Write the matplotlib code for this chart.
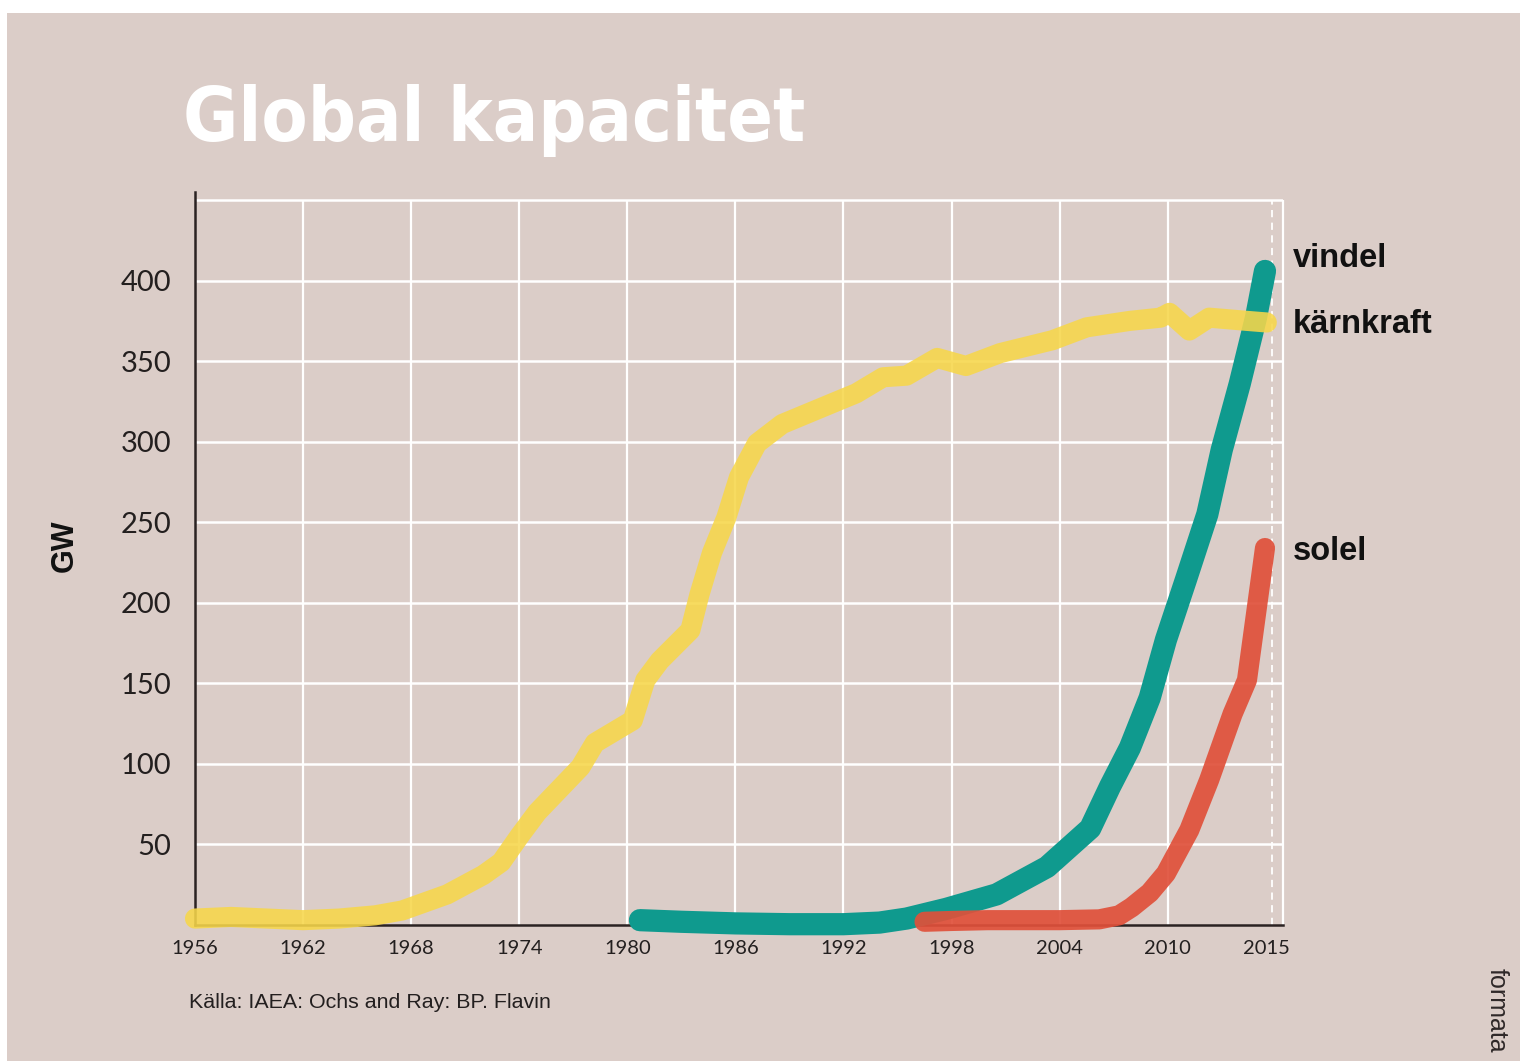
import matplotlib.pyplot as plt
from matplotlib.patches import Rectangle

# global capacity, GW
years_karn = [1956, 1958, 1960, 1962, 1964, 1966, 1967.5, 1970, 1972, 1973, 1974, 1975,
              1977.4, 1978.2, 1979.4, 1980.3, 1981, 1981.8, 1983.5, 1984, 1984.7, 1985.5,
              1986.2, 1987.2, 1988.6, 1991.4, 1992.7, 1994.2, 1995.5, 1997.2, 1998.8,
              2000.7, 2003.6, 2005.5, 2007.9, 2009.6, 2010.1, 2011.2, 2012.3, 2014.4, 2015.5]
karnkraft = [4, 5, 4, 3, 4, 6, 9, 19, 31, 39, 55, 70,
             98, 113, 121, 127, 152, 164, 183, 205, 231, 253,
             278, 299, 311, 324, 330, 340, 341, 352, 347,
             355, 363, 371, 375, 377, 380, 369, 377, 375, 374]

years_vind = [1980.7, 1983, 1986, 1989, 1992, 1994, 1995.5, 1997.7, 2000.5, 2003.3, 2005.7,
              2006.8, 2007.9, 2009.0, 2009.9, 2011.0, 2012.2, 2013.0, 2014.0, 2014.9, 2015.4]
vindel = [3, 2, 1, 0.5, 0.5, 1.5, 4, 10, 19, 36, 60,
          86, 110, 141, 177, 214, 255, 295, 336, 377, 406]

years_sol = [1996.5, 1998, 2000, 2002, 2004, 2006.2, 2007.3, 2008.0, 2009.0, 2009.9, 2011.2,
             2012.3, 2013.6, 2014.4, 2014.9, 2015.4]
solel = [2, 2.5, 3, 3, 3, 3.5, 6, 11, 20, 32, 59, 90, 131, 152, 193, 234]

xticks = [1956, 1962, 1968, 1974, 1980, 1986, 1992, 1998, 2004, 2010]
yticks = [50, 100, 150, 200, 250, 300, 350, 400]
grid_y = yticks + [450]

bg = '#dbcdc8'
yellow = '#f7d74a'
teal = '#0f9a8e'
red = '#e0503a'
dark = '#2a2222'

fig = plt.figure(figsize=(15.2, 10.61), dpi=100, facecolor='white')
fig.patches.append(Rectangle((7 / 1520, 0), 1, 1 - 13 / 1061, transform=fig.transFigure,
                             facecolor=bg, edgecolor='none', zorder=-5))

ax = fig.add_axes([195 / 1520, 136 / 1061, (1283 - 195) / 1520, (925 - 192) / 1061])
ax.set_facecolor('none')
ax.set_xlim(1956, 2016.4)
ax.set_ylim(0, 455)

for s in ['top', 'right']:
    ax.spines[s].set_visible(False)
for s in ['left', 'bottom']:
    ax.spines[s].set_color(dark)
    ax.spines[s].set_linewidth(1.8)
    ax.spines[s].set_zorder(1.5)

# white grid
ax.hlines(grid_y, 1956, 2016.4, color='white', lw=1.8, zorder=1)
ax.vlines(xticks[1:] + [2016.4], 0, 450, color='white', lw=1.6, zorder=1, clip_on=False)
ax.vlines([2015.8], 0, 450, color='white', lw=1.3, ls=(0, (4, 3)), zorder=1)

ax.plot(years_vind, vindel, color=teal, lw=16, solid_capstyle='round',
        solid_joinstyle='round', zorder=3, clip_on=False)
ax.plot(years_karn, karnkraft, color=yellow, lw=14.5, alpha=0.88, solid_capstyle='round',
        solid_joinstyle='round', zorder=4, clip_on=False)
ax.plot(years_sol, solel, color=red, lw=14.5, alpha=0.92, solid_capstyle='round',
        solid_joinstyle='round', zorder=5, clip_on=False)

ax.set_yticks(yticks)
ax.set_yticklabels([str(v) for v in yticks], family='Lato', fontsize=21, color='#231f1f')
ax.set_xticks(xticks + [2015.5])
ax.set_xticklabels([str(v) for v in xticks] + ['2015'], family='Lato', fontsize=14.5,
                   color='#231f1f')
ax.tick_params(axis='y', length=0, pad=17)
ax.tick_params(axis='x', length=0, pad=11)

ax.set_ylabel('GW', family='Liberation Sans', fontweight='bold', fontsize=22,
              color='#111111')
ax.yaxis.set_label_coords(-0.106, 0.517)

lab = dict(family='Liberation Sans', fontweight='bold', fontsize=23.5, color='#111111',
           ha='left', va='center', clip_on=False)
ax.text(2016.95, 414, 'vindel', **lab)
ax.text(2016.95, 373, 'kärnkraft', **lab)
ax.text(2016.95, 232, 'solel', **lab)

fig.text(183 / 1520, 1 - 141 / 1061, 'Global kapacitet', family='DejaVu Sans',
         fontstretch='condensed', fontweight='bold', fontsize=54, color='white',
         ha='left', va='baseline')

fig.text(189 / 1520, 1 - 1002 / 1061, 'Källa: IAEA: Ochs and Ray: BP. Flavin',
         family='Liberation Sans', fontsize=15.4, color='#231f1f', ha='left', va='center')

fig.text(1497 / 1520, 1 - 1010 / 1061, 'formata', family='Liberation Sans', fontsize=18,
         color='#2e2828', rotation=270, ha='center', va='center')

fig.savefig('out.png', dpi=100, facecolor=fig.get_facecolor())
